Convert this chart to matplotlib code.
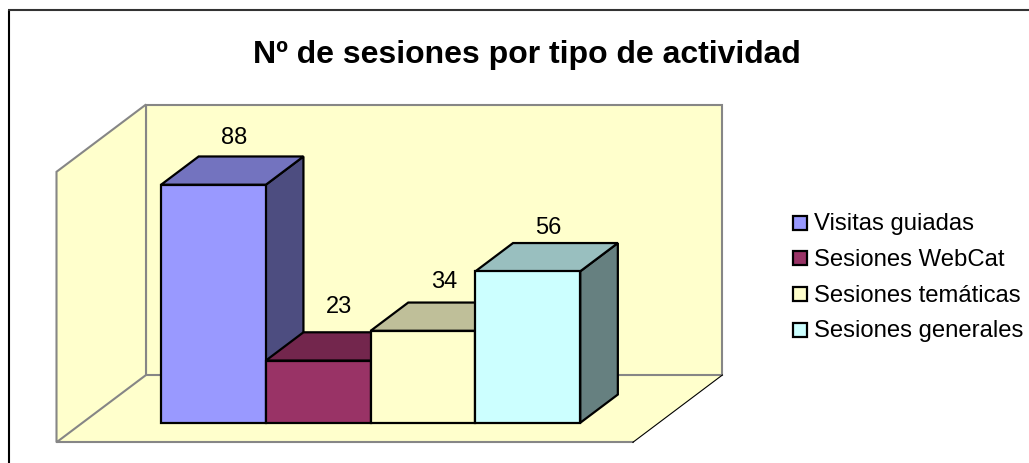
import matplotlib
matplotlib.use('Agg')
from matplotlib import pyplot as plt
from matplotlib.patches import Polygon, Rectangle

plt.rcParams['font.family'] = ['Liberation Sans', 'DejaVu Sans']

"DATA"
title = 'Nº de sesiones por tipo de actividad'
series = ['Visitas guiadas', 'Sesiones WebCat', 'Sesiones temáticas', 'Sesiones generales']
values = [88, 23, 34, 56]
colors = ['#9999FF', '#993366', '#FFFFCC', '#CCFFFF']
tops = ['#7373BF', '#73264D', '#BFBF99', '#99BFBF']
sides = ['#4D4D80', '#4D1A33', '#808066', '#668080']

"SCALES"
px_x = 104.8    # pixels for one bar width
px_y = 2.705    # pixels for one value unit
x0 = 56.5       # pixel of front left floor corner
y0 = 442.3
dx_full = 89.5 / px_x   # shift of full chart depth
dy_full = 67.3 / px_y
vmax = 100
n_slots = 5.5
gap = 0.75
d_front = 0.29
d_back = 0.71


def proj(x, v, d):
    return (x + d * dx_full, v + d * dy_full)


fig = plt.figure(figsize=(10.29, 4.63), dpi=100)
ax = fig.add_axes([0, 0, 1, 1])
ax.set_xlim(-x0 / px_x, (1029 - x0) / px_x)
ax.set_ylim(-(463 - y0) / px_y, y0 / px_y)
ax.axis('off')

# frame, only left and top are visible in the picture
ax.plot([8.5 / 1029, 8.5 / 1029], [0, 1 - 9.5 / 463], transform=ax.transAxes,
        color='black', lw=1.5, zorder=0, solid_capstyle='butt')
ax.plot([7.8 / 1029, 1], [1 - 9.5 / 463, 1 - 9.5 / 463], transform=ax.transAxes,
        color='#333333', lw=1.5, zorder=0, solid_capstyle='butt')

"WALLS"
wall = '#FFFFCC'
grey = '#868686'
floor = [proj(0, 0, 0), proj(n_slots, 0, 0), proj(n_slots, 0, 1), proj(0, 0, 1)]
ax.add_patch(Polygon(floor, closed=True, fc=wall, ec='none', zorder=1))
back = [proj(0, 0, 1), proj(n_slots, 0, 1), proj(n_slots, vmax, 1), proj(0, vmax, 1)]
ax.add_patch(Polygon(back, closed=True, fc=wall, ec=grey, lw=1.5, zorder=1))
left = [proj(0, 0, 0), proj(0, 0, 1), proj(0, vmax, 1), proj(0, vmax, 0)]
ax.add_patch(Polygon(left, closed=True, fc=wall, ec=grey, lw=1.5, zorder=1))
ax.plot(*zip(proj(0, 0, 0), proj(n_slots, 0, 0)), color=grey, lw=1.5, zorder=2)
ax.plot(*zip(proj(n_slots, 0, 0), proj(n_slots, 0, 1)), color='black', lw=0.8, zorder=2)

"BARS"
label_up = [18, 25, 21, 15]     # pixels above the back top edge
for i in range(len(values)):
    xa = gap + i
    xb = xa + 1
    v = values[i]
    z = 3 + i
    top = [proj(xa, v, d_front), proj(xb, v, d_front), proj(xb, v, d_back), proj(xa, v, d_back)]
    side = [proj(xb, 0, d_front), proj(xb, 0, d_back), proj(xb, v, d_back), proj(xb, v, d_front)]
    front = [proj(xa, 0, d_front), proj(xb, 0, d_front), proj(xb, v, d_front), proj(xa, v, d_front)]
    ax.add_patch(Polygon(side, closed=True, fc=sides[i], ec='black', lw=1.6, joinstyle='miter', zorder=z))
    ax.add_patch(Polygon(top, closed=True, fc=tops[i], ec='black', lw=1.6, joinstyle='miter', zorder=z))
    ax.add_patch(Polygon(front, closed=True, fc=colors[i], ec='black', lw=1.6, joinstyle='miter', zorder=z))
    lx = proj(xa + 0.5, v, 0.5)[0] + 2 / px_x
    ly = proj(xa, v, d_back)[1] + label_up[i] / px_y
    ax.text(lx, ly, str(v), ha='center', va='center', fontsize=17, color='black', zorder=10)

"TITLE"
ax.text(527 / 1029, 1 - 55 / 463, title, transform=ax.transAxes, ha='center', va='center',
        fontsize=23, fontweight='bold', color='black')

"LEGEND"
leg_y = [222.5, 258, 294, 330]
for i in range(len(series)):
    ax.add_patch(Rectangle((793 / 1029, 1 - (leg_y[i] + 7) / 463), 14 / 1029, 14 / 463,
                           transform=ax.transAxes, fc=colors[i], ec='black', lw=1.6, zorder=10))
    ax.text(814 / 1029, 1 - (leg_y[i] + 1.5) / 463, series[i], transform=ax.transAxes, ha='left',
            va='center', fontsize=17.2, color='black')

fig.savefig('out.png', dpi=100)
